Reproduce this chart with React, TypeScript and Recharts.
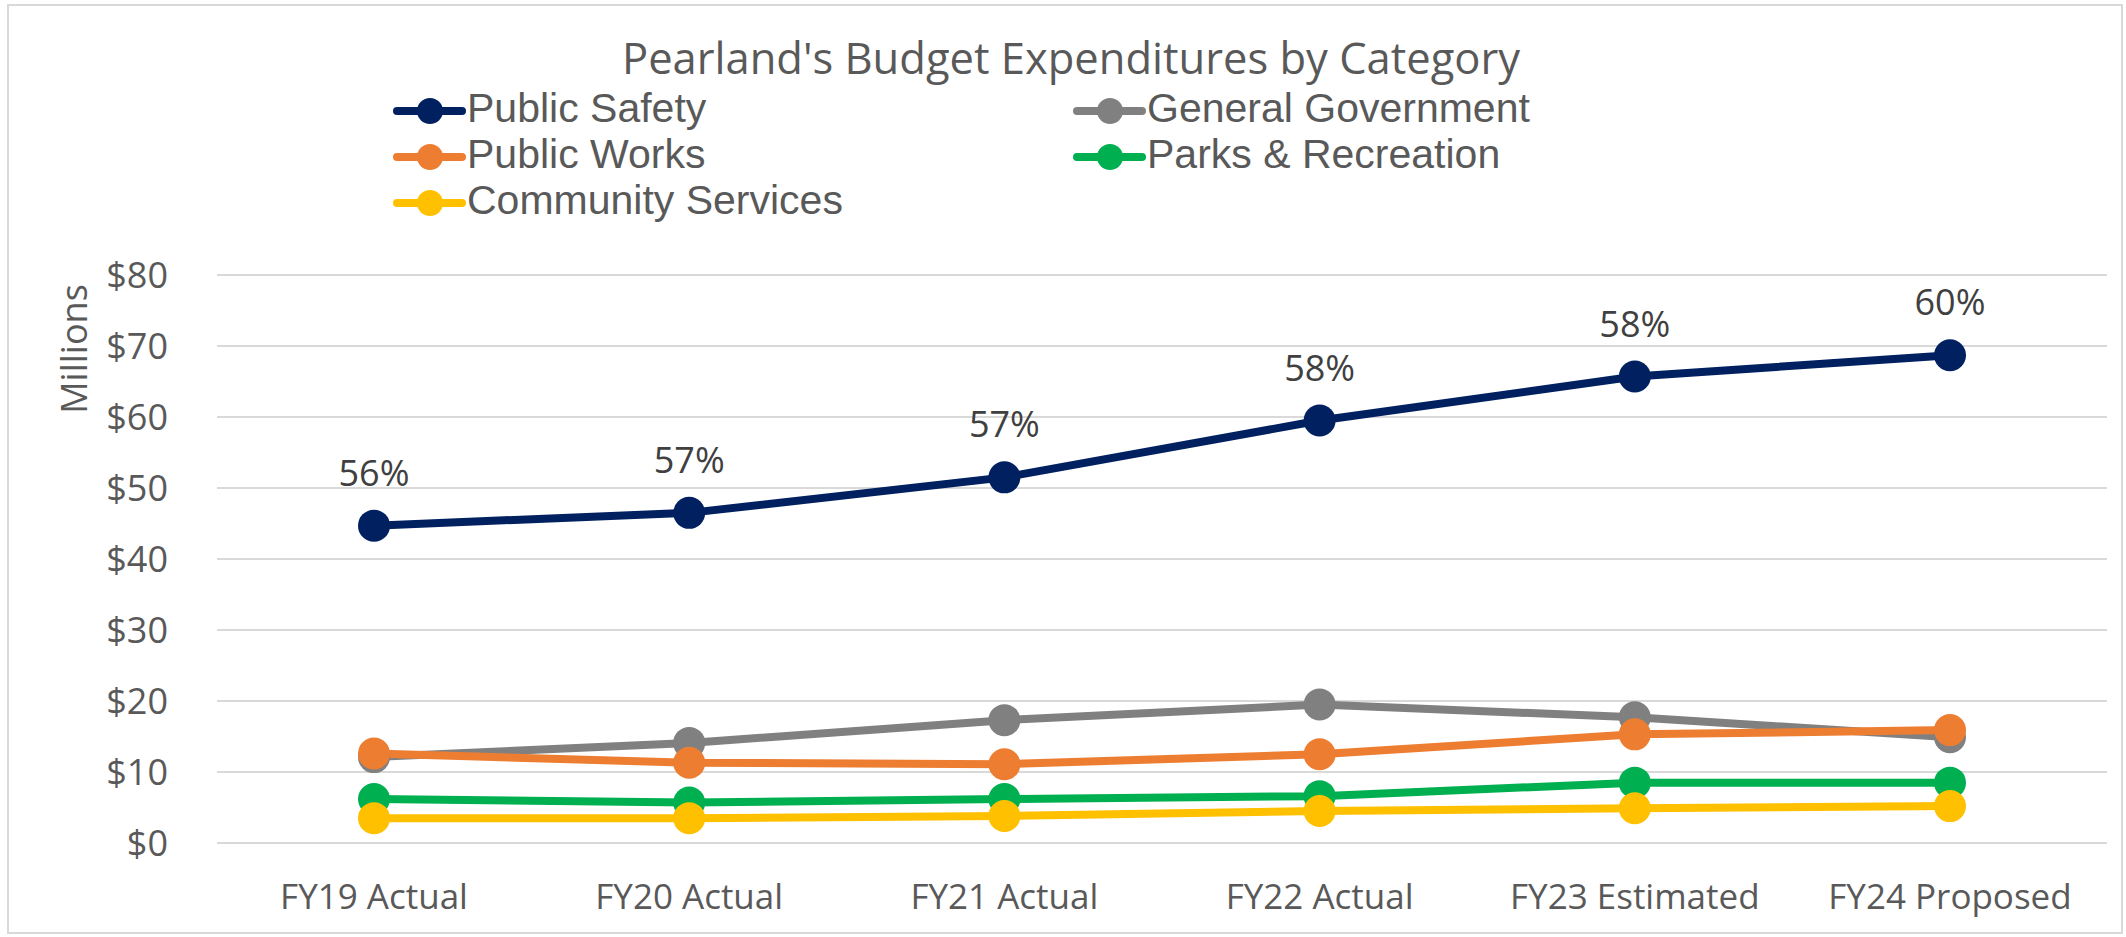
import { CartesianGrid, LabelList, Legend, Line, LineChart, XAxis, YAxis } from "recharts";

const categories = ["FY19 Actual", "FY20 Actual", "FY21 Actual", "FY22 Actual", "FY23 Estimated", "FY24 Proposed"];
const publicSafety = [44.7, 46.5, 51.5, 59.5, 65.7, 68.7];
const generalGovernment = [12.1, 14.1, 17.3, 19.5, 17.7, 14.9];
const publicWorks = [12.6, 11.3, 11.1, 12.5, 15.3, 15.9];
const parksRecreation = [6.2, 5.7, 6.2, 6.6, 8.5, 8.5];
const communityServices = [3.5, 3.5, 3.8, 4.5, 4.9, 5.2];
const safetyShare = ["56%", "57%", "57%", "58%", "58%", "60%"];
const yTicks = [0, 10, 20, 30, 40, 50, 60, 70, 80];

const series = [
  { key: "publicSafety", name: "Public Safety", color: "#002060", values: publicSafety },
  { key: "generalGovernment", name: "General Government", color: "#808080", values: generalGovernment },
  { key: "publicWorks", name: "Public Works", color: "#ED7D31", values: publicWorks },
  { key: "parksRecreation", name: "Parks & Recreation", color: "#00B050", values: parksRecreation },
  { key: "communityServices", name: "Community Services", color: "#FFC000", values: communityServices }
];

const data = categories.map((category, i) => {
  const row: Record<string, string | number> = { category, share: safetyShare[i] };
  series.forEach((s) => {
    row[s.key] = s.values[i];
  });
  return row;
});

const bodyFont = "'Open Sans', sans-serif";
const legendFont = "'Liberation Sans', Arial, sans-serif";

// legend keeps the series order (Recharts would sort it by name)
function LegendBlock() {
  return (
    <svg width={1200} height={150}>
      {series.map((item, i) => {
        const col = i % 2;
        const row = Math.floor(i / 2);
        const x0 = 17 + col * 680;
        const base = 37 + row * 46;
        const cy = base - 11;
        return (
          <g key={item.key}>
            <line x1={x0} x2={x0 + 65} y1={cy} y2={cy} stroke={item.color} strokeWidth={8} strokeLinecap="round" />
            <circle cx={x0 + 33} cy={cy} r={13} fill={item.color} />
            <text x={x0 + 70} y={base} fill="#595959" fontSize={41} fontFamily={legendFont}>
              {item.name}
            </text>
          </g>
        );
      })}
    </svg>
  );
}

export default function App() {
  return (
    <div style={{ position: "absolute", left: 0, top: 0, width: 2126, height: 937, background: "#fff" }}>
      <LineChart width={2126} height={937} data={data} margin={{ top: 275, right: 19, bottom: 14, left: 0 }}>
        <CartesianGrid vertical={false} stroke="#d9d9d9" strokeWidth={2} />
        <XAxis
          dataKey="category"
          height={80}
          interval={0}
          axisLine={false}
          tickLine={false}
          tickMargin={35}
          padding={{ left: 157, right: 157 }}
          tick={{ fill: "#595959", fontSize: 35, fontFamily: bodyFont }}
        />
        <YAxis
          width={217}
          domain={[0, 80]}
          ticks={yTicks}
          axisLine={false}
          tickLine={false}
          tickMargin={43}
          tickFormatter={(v) => `$${v}`}
          tick={{ fill: "#595959", fontSize: 36, fontFamily: bodyFont }}
        />
        <Legend
          layout="horizontal"
          verticalAlign="middle"
          align="center"
          wrapperStyle={{ top: 85, left: 380, width: 1200, height: 150 }}
          content={() => <LegendBlock />}
        />
        {series.map((s) => (
          <Line
            key={s.key}
            type="linear"
            dataKey={s.key}
            name={s.name}
            stroke={s.color}
            strokeWidth={8}
            dot={{ r: 16, fill: s.color, stroke: s.color, strokeWidth: 0 }}
            activeDot={false}
            isAnimationActive={false}
          >
            {s.key === "publicSafety" && (
              <LabelList dataKey="share" position="top" offset={40} fill="#404040" fontSize={36} fontFamily={bodyFont} />
            )}
          </Line>
        ))}
      </LineChart>
      <svg width={2126} height={937} style={{ position: "absolute", left: 0, top: 0, pointerEvents: "none" }}>
        <rect x={8} y={5} width={2114} height={928} fill="none" stroke="#d9d9d9" strokeWidth={2} />
        <text x={1071} y={74} textAnchor="middle" fill="#595959" fontSize={43.5} fontFamily={bodyFont}>
          Pearland's Budget Expenditures by Category
        </text>
        <text x={73} y={349} transform="rotate(-90 73 349)" textAnchor="middle" dominantBaseline="central" fill="#595959" fontSize={36} fontFamily={bodyFont}>
          Millions
        </text>
      </svg>
    </div>
  );
}
